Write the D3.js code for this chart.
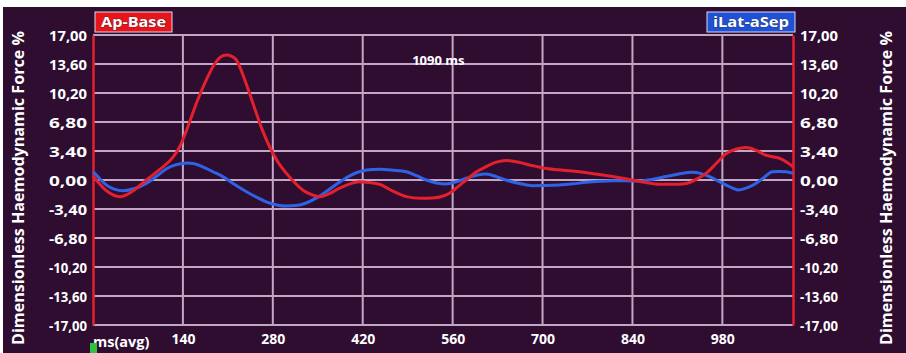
<!DOCTYPE html>
<html>
<head>
<meta charset="utf-8">
<script src="https://cdn.jsdelivr.net/npm/d3@7"></script>
<style>
  html, body { margin: 0; padding: 0; background: #ffffff; }
  svg { display: block; }
</style>
</head>
<body>
<div id="chart"></div>
<script>
// series labels
const seriesNames = ["Ap-Base", "iLat-aSep"];
// y tick values (shown with comma decimals)
const yTicks = [17, 13.6, 10.2, 6.8, 3.4, 0, -3.4, -6.8, -10.2, -13.6, -17];
const xTicks = [140, 280, 420, 560, 700, 840, 980];

// Ap-Base (red), [ms, %]
const apBase = [
  [0, 0.5], [20, -1.2], [42, -1.95], [62, -1.3], [83, 0], [105, 1.3], [125, 2.7], [135, 3.9],
  [148, 6.3], [161, 9.0], [175, 11.5], [187, 13.3], [198, 14.4], [208, 14.65], [216, 14.5],
  [223, 14.1], [236, 11.8], [249, 9.0], [262, 6.2], [275, 3.9], [288, 2.1], [301, 0.8],
  [314, -0.3], [327, -1.2], [340, -1.7], [353, -1.95], [368, -1.6], [384, -0.95], [400, -0.45],
  [415, -0.2], [430, -0.3], [446, -0.5], [467, -1.3], [488, -1.95], [510, -2.15], [529, -2.1],
  [544, -1.9], [555, -1.55], [568, -0.8], [581, 0], [596, 0.9], [612, 1.56], [628, 2.1],
  [643, 2.3], [659, 2.15], [675, 1.85], [690, 1.6], [706, 1.35], [732, 1.15], [757, 0.97],
  [783, 0.7], [809, 0.4], [825, 0.2], [840, 0], [861, -0.3], [882, -0.5], [903, -0.5],
  [924, -0.4], [940, 0.1], [955, 0.8], [970, 1.9], [986, 3.1], [1001, 3.6], [1017, 3.8],
  [1032, 3.5], [1048, 2.9], [1060, 2.7], [1069, 2.55], [1080, 2.1], [1090, 1.55]
];

// iLat-aSep (blue), [ms, %]
const iLatASep = [
  [0, 1.0], [10, 0.2], [21, -0.6], [34, -1.1], [47, -1.25], [65, -1.0], [83, -0.4],
  [100, 0.5], [115, 1.35], [130, 1.8], [146, 2.0], [158, 1.9], [171, 1.55], [186, 1.0],
  [202, 0.4], [220, -0.5], [239, -1.37], [257, -2.1], [275, -2.7], [288, -2.95], [301, -3.05],
  [316, -3.0], [332, -2.7], [348, -2.1], [363, -1.37], [379, -0.5], [395, 0.3], [410, 0.85],
  [426, 1.17], [446, 1.25], [467, 1.15], [488, 0.97], [504, 0.5], [519, 0], [535, -0.35],
  [550, -0.47], [566, -0.2], [581, 0.2], [597, 0.55], [612, 0.7], [628, 0.4], [643, 0],
  [664, -0.4], [685, -0.66], [706, -0.65], [726, -0.59], [747, -0.45], [768, -0.27],
  [789, -0.15], [809, -0.08], [830, -0.1], [851, -0.12], [872, 0.1], [892, 0.4], [912, 0.7],
  [933, 0.9], [947, 0.75], [960, 0.4], [973, -0.1], [986, -0.59], [996, -0.95], [1006, -1.17],
  [1019, -0.9], [1032, -0.4], [1045, 0.3], [1058, 0.97], [1068, 1.0], [1079, 0.97], [1090, 0.78]
];

const W = 906, H = 353;
const margin = {top: 35, right: 113, bottom: 28, left: 93};
const innerW = W - margin.left - margin.right;
const innerH = H - margin.top - margin.bottom;

const bg = "#2e0d31";
const gridColor = "#c2a6c5";
const redColor = "#e3202c";
const blueColor = "#2e63e6";
const fontFamily = "'Open Sans', 'DejaVu Sans', sans-serif";

const svg = d3.select("#chart").append("svg")
    .attr("width", W)
    .attr("height", H);

// background with white frame on top/left like the screenshot
svg.append("rect").attr("width", W).attr("height", H).attr("fill", "#ffffff");
svg.append("rect").attr("x", 3).attr("y", 7).attr("width", W - 3).attr("height", H - 7).attr("fill", bg);

const x = d3.scaleLinear().domain([0, 1090]).range([0, innerW]);
const y = d3.scaleLinear().domain([-17, 17]).range([innerH, 0]);

const g = svg.append("g").attr("transform", `translate(${margin.left},${margin.top})`);

const fmt = v => d3.format(".2f")(v).replace(".", ",").replace("−", "-");

// horizontal grid lines
g.append("g")
    .selectAll("line")
    .data(yTicks)
    .join("line")
    .attr("x1", 0).attr("x2", innerW)
    .attr("y1", d => y(d)).attr("y2", d => y(d))
    .attr("stroke", gridColor)
    .attr("stroke-width", 2);

// vertical grid lines
g.append("g")
    .selectAll("line")
    .data(xTicks)
    .join("line")
    .attr("x1", d => x(d)).attr("x2", d => x(d))
    .attr("y1", 0).attr("y2", innerH)
    .attr("stroke", gridColor)
    .attr("stroke-width", 2);

// left and right red axis lines with tick labels
const axisL = g.append("g").call(d3.axisLeft(y).tickValues(yTicks).tickFormat(fmt).tickSize(0).tickPadding(6));
const axisR = g.append("g").attr("transform", `translate(${innerW},0)`)
    .call(d3.axisRight(y).tickValues(yTicks).tickFormat(fmt).tickSize(0).tickPadding(7));
[axisL, axisR].forEach(a => {
    a.select(".domain").attr("stroke", redColor).attr("stroke-width", 2.5);
    a.selectAll("text")
        .attr("fill", "#ffffff")
        .attr("font-family", fontFamily)
        .attr("font-weight", "bold")
        .attr("font-size", 14)
        .attr("textLength", 38)
        .attr("lengthAdjust", "spacingAndGlyphs")
        .attr("dy", "0.36em");
});

// x axis labels
const axisB = g.append("g").attr("transform", `translate(0,${innerH})`)
    .call(d3.axisBottom(x).tickValues(xTicks).tickFormat(d3.format("d")).tickSize(0).tickPadding(9));
axisB.select(".domain").remove();
axisB.selectAll("text")
    .attr("fill", "#ffffff")
    .attr("font-family", fontFamily)
    .attr("font-weight", "bold")
    .attr("font-size", 14);

g.append("text")
    .attr("x", 0).attr("y", innerH + 22)
    .attr("fill", "#ffffff")
    .attr("font-family", fontFamily)
    .attr("font-weight", "bold")
    .attr("font-size", 14.5)
    .text("ms(avg)");

// small green marker below the axis origin
g.append("rect")
    .attr("x", -3).attr("y", innerH + 18)
    .attr("width", 7).attr("height", 12)
    .attr("fill", "#2fc23a");

// duration label
g.append("text")
    .attr("x", x(497)).attr("y", 30)
    .attr("fill", "#ffffff")
    .attr("font-family", fontFamily)
    .attr("font-weight", "bold")
    .attr("font-size", 13)
    .text("1090 ms");

// curves
const line = d3.line()
    .x(d => x(d[0]))
    .y(d => y(d[1]))
    .curve(d3.curveMonotoneX);

g.append("path")
    .datum(iLatASep)
    .attr("fill", "none")
    .attr("stroke", blueColor)
    .attr("stroke-width", 3)
    .attr("d", line);

g.append("path")
    .datum(apBase)
    .attr("fill", "none")
    .attr("stroke", redColor)
    .attr("stroke-width", 3)
    .attr("d", line);

// legend boxes
const legend = [
    {name: seriesNames[0], fill: "#e8141c", x: 95, w: 77},
    {name: seriesNames[1], fill: "#1f50d8", x: 707, w: 88}
];
legend.forEach(l => {
    svg.append("rect")
        .attr("x", l.x).attr("y", 12)
        .attr("width", l.w).attr("height", 20)
        .attr("fill", l.fill)
        .attr("stroke", "#d9d9e8")
        .attr("stroke-width", 1);
    svg.append("text")
        .attr("x", l.x + l.w / 2).attr("y", 27)
        .attr("text-anchor", "middle")
        .attr("fill", "#ffffff")
        .attr("stroke", "#222")
        .attr("stroke-width", 0.6)
        .attr("paint-order", "stroke")
        .attr("font-family", fontFamily)
        .attr("font-weight", "bold")
        .attr("font-size", 15)
        .attr("textLength", l.w - 12)
        .attr("lengthAdjust", "spacingAndGlyphs")
        .text(l.name);
});

// axis titles
const titleText = "Dimensionless Haemodynamic Force %";
[{cx: 18}, {cx: 886}].forEach(t => {
    svg.append("text")
        .attr("transform", `translate(${t.cx},188) rotate(-90)`)
        .attr("text-anchor", "middle")
        .attr("dy", "0.36em")
        .attr("fill", "#ffffff")
        .attr("font-family", fontFamily)
        .attr("font-weight", "bold")
        .attr("font-size", 16)
        .attr("textLength", 314)
        .attr("lengthAdjust", "spacingAndGlyphs")
        .text(titleText);
});
</script>
</body>
</html>
